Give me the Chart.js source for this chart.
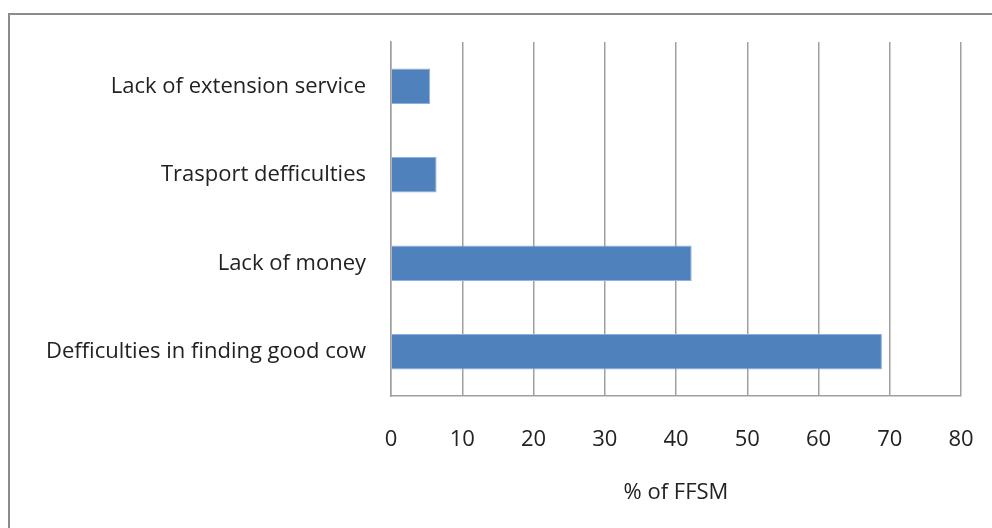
<!DOCTYPE html>
<html>
<head>
<meta charset="utf-8">
<script src="https://cdn.jsdelivr.net/npm/chart.js@4"></script>
<style>
  html, body { margin: 0; padding: 0; background: #fff; }
  #wrap { position: relative; width: 992px; height: 528px; overflow: hidden; }
  #frame { position: absolute; left: 8px; top: 13px; width: 1100px; height: 700px;
           border: 2px solid #8c8c8c; box-sizing: border-box; }
  canvas { position: absolute; left: 0; top: 0; }
</style>
</head>
<body>
<div id="wrap">
  <div id="frame"></div>
  <canvas id="myChart" width="992" height="528"></canvas>
</div>
<script>
const labels = [
  'Lack of extension service',
  'Trasport defficulties',
  'Lack of money',
  'Defficulties in finding good cow'
];
const values = [5.5, 6.4, 42.2, 68.9];
const xTicks = [0, 10, 20, 30, 40, 50, 60, 70, 80];

const font = { family: 'Open Sans', size: 22 };
const gray = '#a0a0a0';

const ctx = document.getElementById('myChart');

let cc = new Chart(ctx, {
  type: 'bar',
  data: {
    labels: labels,
    datasets: [{
      data: values,
      backgroundColor: '#4f81bd',
      borderColor: '#8db0dc',
      borderWidth: 1,
      categoryPercentage: 1,
      barPercentage: 0.4
    }]
  },
  options: {
    indexAxis: 'y',
    responsive: false,
    animation: false,
    layout: { padding: { top: 42, right: 31, bottom: 0, left: 0 } },
    plugins: {
      legend: { display: false },
      tooltip: { enabled: false }
    },
    scales: {
      x: {
        min: xTicks[0],
        max: xTicks[xTicks.length - 1],
        afterBuildTicks: axis => { axis.ticks = xTicks.map(v => ({ value: v })); },
        grid: { color: gray, lineWidth: 1.5, drawTicks: false },
        border: { color: gray, width: 1.5 },
        ticks: { color: '#222', font: font, padding: 31 },
        title: {
          display: true,
          text: '% of FFSM',
          color: '#222',
          font: font,
          padding: { top: 0, bottom: 22 }
        },
        afterFit: axis => {
          axis.height = 132;
          axis.paddingLeft = 0;
          axis.paddingRight = 0;
        }
      },
      y: {
        grid: { display: false, drawTicks: false },
        border: { color: gray, width: 1.5 },
        ticks: { color: '#222', font: font, padding: 25 },
        afterFit: axis => { axis.width = 391; }
      }
    }
  }
});
</script>
</body>
</html>
